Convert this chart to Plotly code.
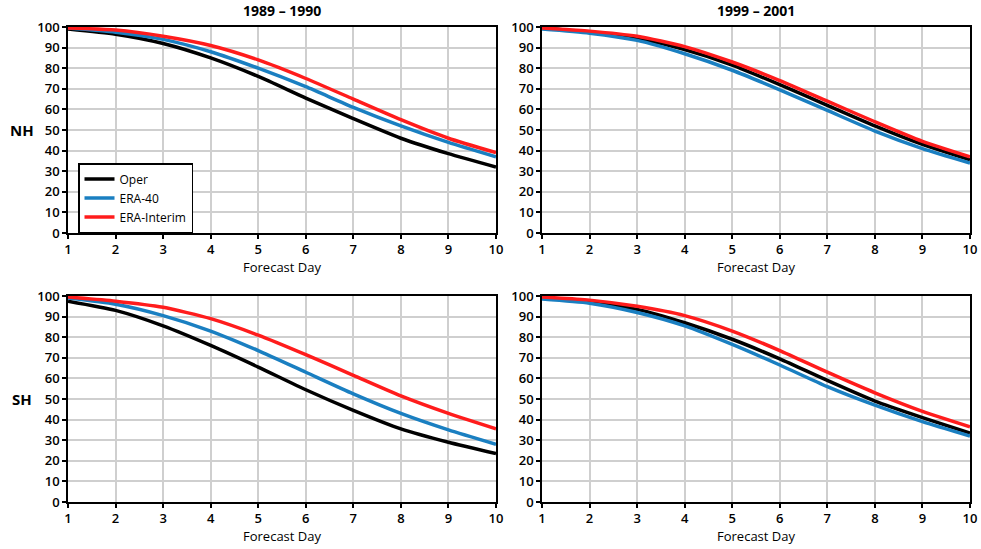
import plotly.graph_objects as go

days = [1, 2, 3, 4, 5, 6, 7, 8, 9, 10]
series_names = ["Oper", "ERA-40", "ERA-Interim"]
colors = ["#000000", "#1a7fc1", "#ff1c1c"]
col_titles = ["1989 – 1990", "1999 – 2001"]
row_labels = ["NH", "SH"]

nh_8990_oper = [99, 96.5, 92, 85, 76, 65.5, 55.5, 46, 38.5, 32]
nh_8990_era40 = [99.5, 97.5, 94, 88, 80, 71, 61, 52, 44, 37]
nh_8990_erai = [99.5, 98.5, 95.5, 91, 84, 75, 65, 55, 46, 39]

nh_9901_oper = [99.5, 97.5, 94.5, 89, 81.5, 72, 62, 52, 43, 35.5]
nh_9901_era40 = [99, 97, 93.5, 87, 79, 69.5, 59.5, 49.5, 41, 34]
nh_9901_erai = [99.5, 98, 95.5, 90.5, 83, 74, 64, 54, 44.5, 37]

sh_8990_oper = [97.5, 93, 85.5, 76, 65.5, 54.5, 44.5, 35.5, 29, 23.5]
sh_8990_era40 = [99, 96, 90.5, 83, 73.5, 63, 52.5, 43, 35, 28]
sh_8990_erai = [99.5, 97.5, 94.5, 89, 81, 71.5, 61.5, 51.5, 43, 35.5]

sh_9901_oper = [99, 97, 93.5, 87, 79, 69.5, 59, 49, 41, 33.5]
sh_9901_era40 = [98.5, 96.5, 92, 85.5, 76.5, 66.5, 56, 47, 39, 32]
sh_9901_erai = [99.5, 98, 95, 90.5, 83, 73.5, 63, 53, 44, 36.5]

panels = [
    [(nh_8990_oper, nh_8990_era40, nh_8990_erai), (nh_9901_oper, nh_9901_era40, nh_9901_erai)],
    [(sh_8990_oper, sh_8990_era40, sh_8990_erai), (sh_9901_oper, sh_9901_era40, sh_9901_erai)],
]

W, H = 981, 549
xdom = [(68 / W, 496 / W), (542 / W, 970 / W)]
ydom = [(1 - 233 / H, 1 - 27 / H), (1 - 502 / H, 1 - 296 / H)]

FONT = "Open Sans"
fig = go.Figure()

idx = 0
for r in range(2):
    for c in range(2):
        idx += 1
        xa = "x" if idx == 1 else f"x{idx}"
        ya = "y" if idx == 1 else f"y{idx}"
        for s, (vals, name, col) in enumerate(zip(panels[r][c], series_names, colors)):
            fig.add_trace(go.Scatter(
                x=days, y=vals, mode="lines", name=name,
                line=dict(color=col, width=3.5, shape="spline", smoothing=0.6),
                xaxis=xa, yaxis=ya, showlegend=(idx == 1),
            ))
        axis_common = dict(
            showline=True, linecolor="black", linewidth=1.5, mirror=True,
            showgrid=True, gridcolor="#cfcfcf", gridwidth=2,
            ticks="outside", ticklen=4, tickcolor="black", tickwidth=1.5,
            tickfont=dict(family=FONT, size=13, color="black", weight=600),
            zeroline=False, automargin=False,
        )
        fig.update_layout(**{
            ("xaxis" if idx == 1 else f"xaxis{idx}"): dict(
                axis_common, domain=xdom[c], range=[1, 10], dtick=1,
                anchor=ya,
                title=dict(text="Forecast Day", standoff=0,
                           font=dict(family=FONT, size=13, color="black")),
            ),
            ("yaxis" if idx == 1 else f"yaxis{idx}"): dict(
                axis_common, domain=ydom[r], range=[0, 100], dtick=10,
                anchor=xa, ticklabelstandoff=0,
            ),
        })

annotations = []
for c in range(2):
    annotations.append(dict(
        text=f"<b>{col_titles[c]}</b>", x=(xdom[c][0] + xdom[c][1]) / 2, y=1 - 11 / H,
        xref="paper", yref="paper", showarrow=False,
        font=dict(family=FONT, size=14, color="black"), xanchor="center", yanchor="middle",
    ))
for r in range(2):
    annotations.append(dict(
        text=f"<b>{row_labels[r]}</b>", x=22 / W, y=(ydom[r][0] + ydom[r][1]) / 2,
        xref="paper", yref="paper", showarrow=False,
        font=dict(family=FONT, size=15, color="black"), xanchor="center", yanchor="middle",
    ))

fig.update_layout(
    width=W, height=H,
    margin=dict(l=0, r=0, t=0, b=0, autoexpand=False),
    plot_bgcolor="white", paper_bgcolor="white",
    annotations=annotations,
    legend=dict(
        x=78 / W, y=1 - 163 / H, xanchor="left", yanchor="top",
        bgcolor="white", bordercolor="black", borderwidth=1.5,
        font=dict(family=FONT, size=12, color="black"),
        tracegroupgap=0, itemwidth=30,
    ),
)

fig.write_html(
    "out.html",
    config={"displayModeBar": False},
    post_script="document.body.style.margin='0';document.body.style.overflow='hidden';",
)
